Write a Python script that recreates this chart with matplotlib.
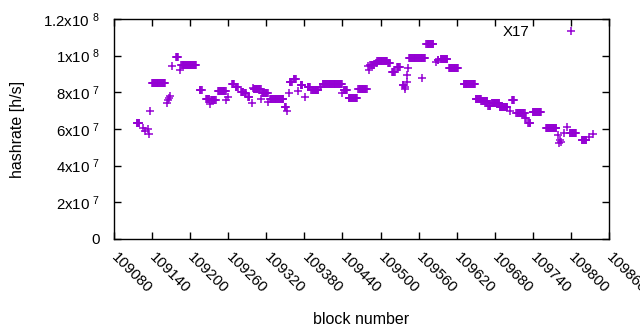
import numpy as np
import matplotlib
matplotlib.use("Agg")
import matplotlib.pyplot as plt

plt.rcParams['font.family'] = ['Liberation Sans', 'DejaVu Sans']
plt.rcParams['mathtext.fontset'] = 'custom'
plt.rcParams['mathtext.rm'] = 'Liberation Sans'
plt.rcParams['mathtext.it'] = 'Liberation Sans'

# runs of blocks with the same hashrate (first block, last block, hashrate in 1e7 h/s)
run_start = [109116, 109126, 109129, 109134, 109135, 109137, 109140, 109163, 109165, 109167,
             109169, 109172, 109178, 109184, 109186, 109215, 109225, 109231, 109233, 109244,
             109257, 109260, 109266, 109272, 109280, 109286, 109291, 109297, 109299, 109300,
             109312, 109313, 109323, 109326, 109349, 109352, 109355, 109357, 109363, 109370,
             109374, 109381, 109385, 109391, 109405, 109409, 109440, 109442, 109450, 109465,
             109481, 109482, 109484, 109493, 109495, 109512, 109518, 109526, 109535, 109538,
             109539, 109541, 109542, 109544, 109545, 109565, 109572, 109588, 109590, 109595,
             109608, 109631, 109650, 109659, 109670, 109675, 109688, 109704, 109707, 109714,
             109728, 109733, 109740, 109761, 109780, 109781, 109783, 109785, 109789, 109794,
             109798, 109817, 109829, 109834]
run_end = [109120, 109126, 109129, 109134, 109135, 109137, 109160, 109163, 109165, 109167,
           109169, 109172, 109181, 109184, 109209, 109218, 109230, 109231, 109240, 109256,
           109257, 109260, 109269, 109275, 109284, 109288, 109293, 109297, 109299, 109311,
           109312, 109322, 109323, 109347, 109351, 109352, 109355, 109360, 109366, 109370,
           109377, 109381, 109389, 109402, 109406, 109439, 109440, 109447, 109463, 109478,
           109481, 109482, 109490, 109494, 109510, 109515, 109522, 109530, 109536, 109538,
           109539, 109541, 109542, 109544, 109570, 109565, 109583, 109588, 109591, 109605,
           109622, 109649, 109658, 109668, 109673, 109687, 109700, 109704, 109710, 109727,
           109729, 109736, 109753, 109777, 109780, 109781, 109783, 109785, 109789, 109794,
           109808, 109824, 109829, 109834]
run_value = [6.35, 6.07, 5.90, 6.00, 5.72, 6.98, 8.50, 7.44, 7.58, 7.67,
             7.80, 9.44, 9.91, 9.20, 9.47, 8.13, 7.62, 7.35, 7.58, 8.07,
             7.58, 7.76, 8.46, 8.28, 8.04, 7.95, 7.76, 7.40, 8.26, 8.17,
             7.64, 7.98, 7.46, 7.62, 7.18, 6.98, 7.95, 8.58, 8.73, 8.09,
             8.40, 7.73, 8.28, 8.13, 8.28, 8.46, 7.98, 8.13, 7.67, 8.17,
             9.44, 9.22, 9.49, 9.62, 9.71, 9.58, 9.09, 9.40, 8.40, 8.28,
             8.20, 8.58, 8.95, 9.31, 9.85, 8.76, 10.62, 9.67, 9.76, 9.80,
             9.31, 8.44, 7.62, 7.53, 7.26, 7.40, 7.22, 7.00, 7.58, 6.86,
             6.58, 6.31, 6.91, 6.04, 5.67, 5.22, 5.40, 5.30, 5.77, 6.13,
             5.80, 5.40, 5.58, 5.73]

blocks = np.concatenate([np.arange(s, e + 1) for s, e in zip(run_start, run_end)])
hashrate = np.concatenate([np.full(e - s + 1, v * 1e7) for s, e, v in zip(run_start, run_end, run_value)])

x_ticks = list(range(109080, 109861, 60))
y_ticks = [0, 2e7, 4e7, 6e7, 8e7, 1e8, 1.2e8]
y_labels = ['0', '2x10 $^{7}$', '4x10 $^{7}$', '6x10 $^{7}$', '8x10 $^{7}$', '1x10 $^{8}$', '1.2x10 $^{8}$']

fig = plt.figure(figsize=(6.4, 3.3), dpi=100)
ax = fig.add_axes([114 / 640, 1 - 239 / 330, 495 / 640, 220 / 330])

ax.plot(blocks, hashrate, '+', color='#9400d3', markersize=5.4, markeredgewidth=1.1, label='X17')

ax.set_xlim(109080, 109860)
ax.set_ylim(0, 1.2e8)
ax.set_xticks(x_ticks)
ax.set_xticklabels([str(t) for t in x_ticks], rotation=-45, ha='left', va='center',
                   rotation_mode='anchor', fontsize=10.8)
ax.set_yticks(y_ticks)
ax.set_yticklabels(y_labels, fontsize=10.8)
ax.tick_params(direction='in', length=5, width=1, top=True, right=True)
ax.tick_params(axis='y', pad=10)
ax.tick_params(axis='x', pad=12)
for s in ax.spines.values():
    s.set_linewidth(1)

ax.set_xlabel('block number', fontsize=11.5)
ax.set_ylabel('hashrate [h/s]', fontsize=11.5)
ax.xaxis.set_label_coords(0.5, -0.33)
ax.yaxis.set_label_coords(-0.18, 0.5)

ax.legend(loc='upper right', bbox_to_anchor=(0.988, 1.035), frameon=False, markerfirst=False,
          fontsize=10.8, handlelength=2.5, handletextpad=1.5)

plt.savefig('out.png', dpi=100)
